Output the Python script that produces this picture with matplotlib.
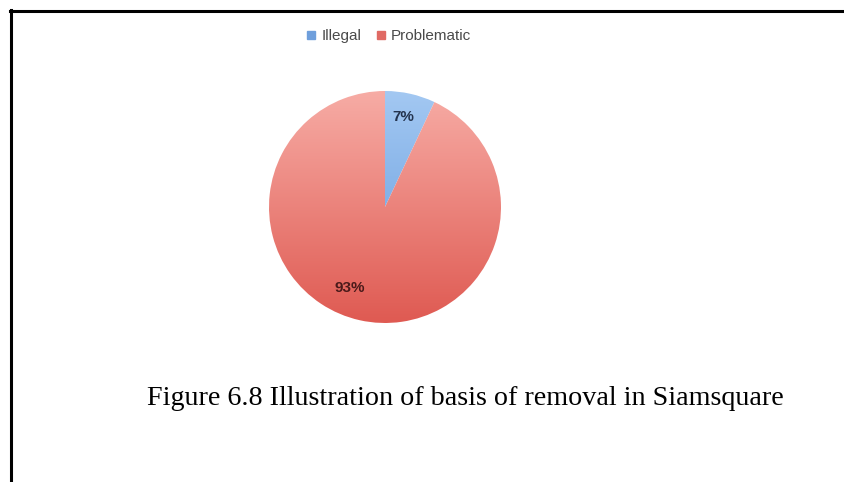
import numpy as np
import matplotlib
matplotlib.use("Agg")
import matplotlib.pyplot as plt
from matplotlib.colors import LinearSegmentedColormap

labels = ["Illegal", "Problematic"]
shares = [7, 93]
legend_colors = ["#6f9fdc", "#e06a64"]
# light (top) -> dark (bottom) shading for each slice
shades = [("#a3c8f2", "#5f97dc"), ("#f7aca5", "#df5a52")]
label_colors = ["#24344f", "#4a1a1a"]

W, H = 845, 482
fig = plt.figure(figsize=(W / 100, H / 100), dpi=100)

# page frame (top and left edges only)
fig.add_artist(plt.Line2D([10 / W, 1], [1 - 11 / H, 1 - 11 / H], color="black", lw=2.2))
fig.add_artist(plt.Line2D([11 / W, 11 / W], [0, 1 - 10 / H], color="black", lw=2.2))

cx, cy, r = 385, 207, 116
ax = fig.add_axes([(cx - r) / W, 1 - (cy + r) / H, 2 * r / W, 2 * r / H])
wedges, texts = ax.pie(shares, startangle=90, counterclock=False,
                       wedgeprops=dict(facecolor="none", edgecolor="none"))
ax.set_xlim(-1, 1)
ax.set_ylim(-1, 1)
ax.set_aspect("auto")
ax.axis("off")

grad = np.linspace(0, 1, 256).reshape(-1, 1)
for w, (c0, c1) in zip(wedges, shades):
    cmap = LinearSegmentedColormap.from_list("shade", [c0, c1])
    im = ax.imshow(grad, cmap=cmap, extent=[-1, 1, -1, 1], origin="upper",
                   aspect="auto", interpolation="bilinear")
    im.set_clip_path(w)

# value labels
label_pos = [(0.155, 0.78), (-0.30, -0.70)]
for (x, y), v, c in zip(label_pos, shares, label_colors):
    ax.text(x, y, f"{v}%", ha="center", va="center", fontsize=11,
            fontweight="bold", color=c, family="Liberation Sans")

# legend
handles = [plt.Line2D([], [], marker="s", ls="", ms=6, color=c) for c in legend_colors]
fig.legend(handles, labels, loc="center", bbox_to_anchor=(389 / W, 1 - 36 / H),
           ncol=2, frameon=False, handlelength=0.6, handletextpad=0.35,
           columnspacing=1.0, prop=dict(family="Liberation Sans", size=11),
           labelcolor="#4a4a4a")

# caption
cap = fig.text(147 / W, 1 - 405 / H, "Figure 6.8 Illustration of basis of removal in Siamsquare",
               ha="left", va="baseline", family="Liberation Serif", fontsize=16)
fig.canvas.draw()
bb = cap.get_window_extent()
cap.set_fontsize(16 * 637 / bb.width)

fig.savefig("out.png", dpi=100, facecolor="white")
